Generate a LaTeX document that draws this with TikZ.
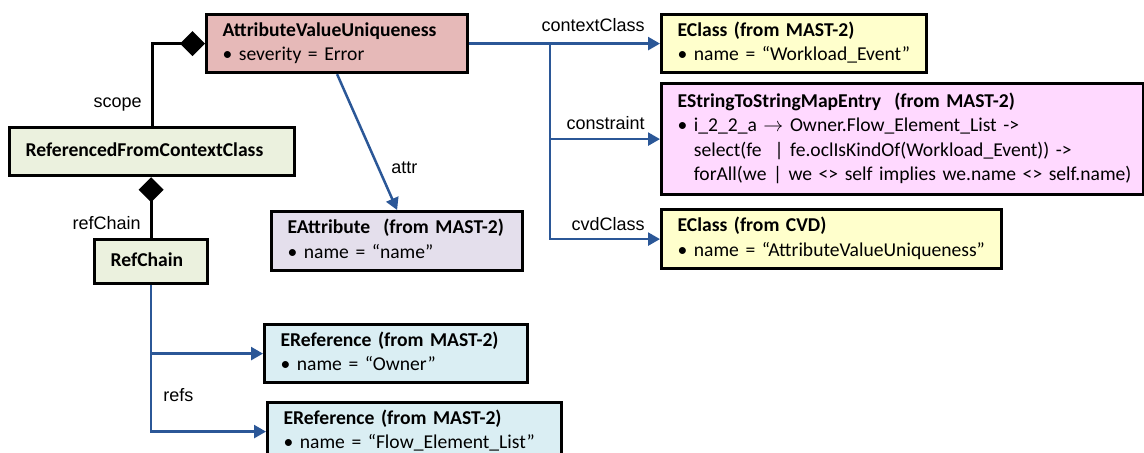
\documentclass[tikz,border=0pt]{standalone}
\usepackage{fontspec}
\setmainfont{Carlito}[WordSpace=0.85]
\newfontfamily\lblfont{Liberation Sans}
\usetikzlibrary{arrows.meta}
\definecolor{avupink}{HTML}{E6B9B8}
\definecolor{ctxgreen}{HTML}{EBF1DE}
\definecolor{attrlilac}{HTML}{E4DFEC}
\definecolor{refblue}{HTML}{DAEEF3}
\definecolor{clsyellow}{HTML}{FFFFCC}
\definecolor{mappink}{HTML}{FFD9FF}
\definecolor{linkblue}{HTML}{2B5797}
\begin{document}
\begin{tikzpicture}[x=0.5pt,y=-0.5pt,
  every node/.style={inner sep=0pt},
  cls/.style={draw, line width=1.6pt, anchor=north west, align=left,
    inner xsep=8pt, font=\fontsize{9.8}{12.2}\selectfont},
  lbl/.style={font=\lblfont\fontsize{9}{10}\selectfont},
  link/.style={draw=linkblue, line width=1.25pt, -{Triangle[length=6pt,width=6.5pt]}},
  comp/.style={line width=1.5pt, {Diamond[length=12.5pt,width=12.5pt]}-}]
  \useasboundingbox (0,0) rectangle (1144,453);

  % left part
  \node[cls, fill=avupink, minimum width=130.5pt, minimum height=29pt, text width=114.5pt]
    (avu) at (205,13) {\begin{tabular}{@{}l@{}}
      \textbf{AttributeValueUniqueness}\\ \textbullet\ severity = Error
    \end{tabular}};
  \node[cls, fill=ctxgreen, minimum width=142.5pt, minimum height=24pt, text width=126.5pt]
    (rfcc) at (8,126) {\begin{tabular}{@{}l@{}}
      \textbf{ReferencedFromContextClass}
    \end{tabular}};
  \node[cls, fill=ctxgreen, minimum width=56.5pt, minimum height=22pt, text width=40.5pt]
    (refchain) at (93,238) {\begin{tabular}{@{}l@{}}
      \textbf{RefChain}
    \end{tabular}};
  \node[cls, fill=attrlilac, minimum width=125.5pt, minimum height=29.5pt, text width=109.5pt]
    (eattr) at (270,210) {\begin{tabular}{@{}l@{}}
      \textbf{EAttribute~ (from MAST-2)}\\ \textbullet\ name = “name”
    \end{tabular}};
  \node[cls, fill=refblue, minimum width=131.5pt, minimum height=29pt, text width=115.5pt]
    (eref1) at (263,323) {\begin{tabular}{@{}l@{}}
      \textbf{EReference (from MAST-2)}\\ \textbullet\ name = “Owner”
    \end{tabular}};
  \node[cls, fill=refblue, minimum width=147pt, minimum height=29pt, text width=131pt]
    (eref2) at (266,401) {\begin{tabular}{@{}l@{}}
      \textbf{EReference (from MAST-2)}\\ \textbullet\ name = “Flow\_Element\_List”
    \end{tabular}};

  % right part
  \node[cls, fill=clsyellow, minimum width=132.5pt, minimum height=29pt, text width=116.5pt]
    (ec1) at (660,13) {\begin{tabular}{@{}l@{}}
      \textbf{EClass (from MAST-2)}\\ \textbullet\ name = “Workload\_Event”
    \end{tabular}};
  \node[cls, fill=mappink, minimum width=241pt, minimum height=55.5pt, text width=225pt]
    (map) at (660,82) {\begin{tabular}{@{}l@{}}
      \textbf{EStringToStringMapEntry~~(from MAST-2)}\\
      \textbullet\ i\_2\_2\_a $\rightarrow$ Owner.Flow\_Element\_List ->\\
      \phantom{\textbullet\ }select(fe~ | fe.oclIsKindOf(Workload\_Event)) ->\\
      \phantom{\textbullet\ }forAll(we | we <> self implies we.name <> self.name)
    \end{tabular}};
  \node[cls, fill=clsyellow, minimum width=170pt, minimum height=29.5pt, text width=154pt]
    (ec2) at (660,208) {\begin{tabular}{@{}l@{}}
      \textbf{EClass (from CVD)}\\ \textbullet\ name = “AttributeValueUniqueness”
    \end{tabular}};

  % role names
  \node[lbl, anchor=east] (lctx) at (645,25) {contextClass};
  \node[lbl, anchor=east] (lcon) at (645,123) {constraint};
  \node[lbl, anchor=east] (lcvd) at (645,224) {cvdClass};
  \node[lbl, anchor=east] (lscope) at (142,105) {scope};
  \node[lbl, anchor=east] (lrefch) at (141,223) {refChain};
  \node[lbl, anchor=west] (lattr) at (391,168) {attr};
  \node[lbl, anchor=west] (lrefs) at (163,395) {refs};

  \path (avu.east) -- ++(81,0) coordinate (br);
  \draw[link] (avu.east) -- (ec1.west);
  \draw[link] (br) |- (map.west);
  \draw[link] (br) |- (ec2.west);
  \draw[link] (avu.south) -- (eattr.north);
  \draw[link] (refchain.south) |- (eref1.west);
  \draw[link] (refchain.south) |- (eref2.west);
  \draw[comp] (avu.west) -| (rfcc.north);
  \draw[comp] (rfcc.south -| refchain.north) -- (refchain.north);
\end{tikzpicture}
\end{document}
